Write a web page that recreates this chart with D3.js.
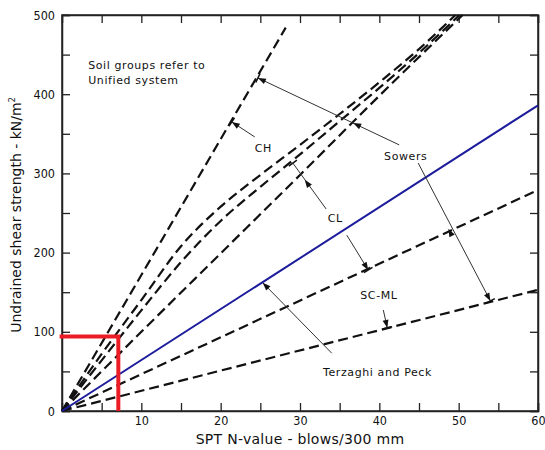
<!DOCTYPE html>
<html><head><meta charset="utf-8">
<script src="https://cdn.jsdelivr.net/npm/d3@7"></script>
<style>
body{margin:0;background:#fff;}
text{font-family:"DejaVu Sans",Verdana,sans-serif;fill:#111;}
.tick text{font-family:"DejaVu Sans Condensed","Liberation Sans Narrow","DejaVu Sans",sans-serif;font-size:12.5px;}
</style></head>
<body>
<svg id="c" width="545" height="450"></svg>
<script>
// ---- data ----
const xTicks = [5,10,15,20,25,30,35,40,45,50,55,60];
const xTickLabels = [10,20,30,40,50,60];
const yTicks = [0,50,100,150,200,250,300,350,400,450,500];
const yTickLabels = [0,100,200,300,400,500];
const terzaghiPeck = [[0,0],[60,386]];
const lineCH = [[0,0],[28.2,484]];
const lineCL_A = [[0,0],[5,72],[10,140],[15,208],[20,258],[25,298],[30,336],[35,375],[40,415],[45,457],[49.6,500]];
const lineCL_B = [[0,0],[5,64],[10,127],[15,188],[20,240],[25,283],[30,324],[35,366],[40,408],[45,452],[50.1,500]];
const lineCL_C = [[0,0],[10,100],[20,199],[30,298],[40,398],[50.5,500]];
const lineSCML_upper = [[0,0],[60,279]];
const lineSCML_lower = [[0,0],[60,153]];
const redMarker = [[-0.3,94],[7.1,94],[7.1,0]];
const labels = [
  {t:"Soil groups refer to", n:3.3, v:432},
  {t:"Unified system", n:3.3, v:413},
  {t:"CH", n:24.3, v:327},
  {t:"CL", n:33.5, v:239},
  {t:"SC-ML", n:37.6, v:141},
  {t:"Sowers", n:40.6, v:317},
  {t:"Terzaghi and Peck", n:32.9, v:44}
];
// leaders: from a to b; bars / arrowheads at ends, extra arrowheads at mids
const leaders = [
  {a:[24.7,420.5], b:[42.5,336], barA:true, arrowA:true, mids:[[36.7,363.5]]},
  {a:[21.4,365], b:[24.3,346], barA:true, arrowA:true, mids:[]},
  {a:[29.1,313], b:[33.3,255], barA:true, arrowA:false, mids:[[30.6,292]]},
  {a:[35.9,222], b:[38.6,178], barA:false, barB:true, arrowB:true, mids:[]},
  {a:[40.5,127.5], b:[41.0,105], barB:true, arrowB:true, mids:[]},
  {a:[44.9,313], b:[54.0,139], barB:true, arrowB:true, mids:[[48.7,230]]},
  {a:[25.3,162], b:[34.0,73], arrowA:true, mids:[]}
];

// ---- chart ----
const svg = d3.select("#c");
const x = d3.scaleLinear().domain([0,60]).range([62,538]);
const y = d3.scaleLinear().domain([0,500]).range([411,15]);

svg.append("rect").attr("x",62).attr("y",15).attr("width",476).attr("height",396)
  .attr("fill","none").attr("stroke","#222").attr("stroke-width",1.5);

const fmtX = d => xTickLabels.includes(d) ? d : "";
const fmtY = d => yTickLabels.includes(d) ? d : "";
const gx = svg.append("g").attr("transform","translate(0,411)")
  .call(d3.axisBottom(x).tickValues(xTicks).tickSize(-8).tickPadding(5).tickFormat(fmtX));
const gxt = svg.append("g").attr("transform","translate(0,15)")
  .call(d3.axisTop(x).tickValues(xTicks).tickSize(-8).tickFormat(""));
const gy = svg.append("g").attr("transform","translate(62,0)")
  .call(d3.axisLeft(y).tickValues(yTicks).tickSize(-8).tickPadding(7).tickFormat(fmtY));
const gyr = svg.append("g").attr("transform","translate(538,0)")
  .call(d3.axisRight(y).tickValues(yTicks).tickSize(-8).tickFormat(""));
[gx,gxt,gy,gyr].forEach(g=>{
  g.select(".domain").attr("stroke","#222").attr("stroke-width",1.5);
  g.selectAll(".tick line").attr("stroke","#222").attr("stroke-width",1.3);
});

const line = d3.line().x(d=>x(d[0])).y(d=>y(d[1])).curve(d3.curveMonotoneX);
const dashed = [lineCH,lineCL_A,lineCL_B,lineCL_C,lineSCML_upper,lineSCML_lower];
dashed.forEach(s=>{
  svg.append("path").attr("d",line(s)).attr("fill","none")
    .attr("stroke","#111").attr("stroke-width",2.2).attr("stroke-dasharray","10,5");
});
svg.append("path").attr("d",line(terzaghiPeck)).attr("fill","none")
  .attr("stroke","#1c1c9c").attr("stroke-width",2);

svg.append("path").attr("d",d3.line().x(d=>x(d[0])).y(d=>y(d[1]))(redMarker))
  .attr("fill","none").attr("stroke","#ec1c24").attr("stroke-width",4);

function arrowAt(px,py,ang){
  const L=8,W=3;
  const bx=px-L*Math.cos(ang), by=py-L*Math.sin(ang);
  const nx=-Math.sin(ang), ny=Math.cos(ang);
  svg.append("path").attr("d",`M${px},${py}L${bx+W*nx},${by+W*ny}L${bx-W*nx},${by-W*ny}Z`).attr("fill","#111");
}
function barAt(px,py,ang){
  const nx=-Math.sin(ang), ny=Math.cos(ang), B=5;
  svg.append("line").attr("x1",px+B*nx).attr("y1",py+B*ny).attr("x2",px-B*nx).attr("y2",py-B*ny)
    .attr("stroke","#111").attr("stroke-width",1.5);
}
leaders.forEach(l=>{
  const ax=x(l.a[0]), ay=y(l.a[1]), bx=x(l.b[0]), by=y(l.b[1]);
  svg.append("line").attr("x1",ax).attr("y1",ay).attr("x2",bx).attr("y2",by)
    .attr("stroke","#333").attr("stroke-width",1);
  const angToA=Math.atan2(ay-by,ax-bx), angToB=Math.atan2(by-ay,bx-ax);
  if(l.barA) barAt(ax,ay,angToA);
  if(l.arrowA) arrowAt(ax,ay,angToA);
  if(l.barB) barAt(bx,by,angToB);
  if(l.arrowB) arrowAt(bx,by,angToB);
  l.mids.forEach(m=>arrowAt(x(m[0]),y(m[1]),angToA));
});

labels.forEach(l=>{
  svg.append("text").attr("x",x(l.n)).attr("y",y(l.v)).attr("font-size",11)
    .attr("letter-spacing","0.6px").text(l.t);
});

svg.append("text").attr("x",300).attr("y",444).attr("text-anchor","middle")
  .attr("font-size",14).attr("letter-spacing","0.3px").text("SPT N-value - blows/300 mm");
const yt = svg.append("text").attr("transform","translate(21,215) rotate(-90)")
  .attr("text-anchor","middle").attr("font-size",14);
yt.append("tspan").text("Undrained shear strength - kN/m");
yt.append("tspan").attr("font-size",8).attr("dy",-6).text("2");
</script>
</body></html>
